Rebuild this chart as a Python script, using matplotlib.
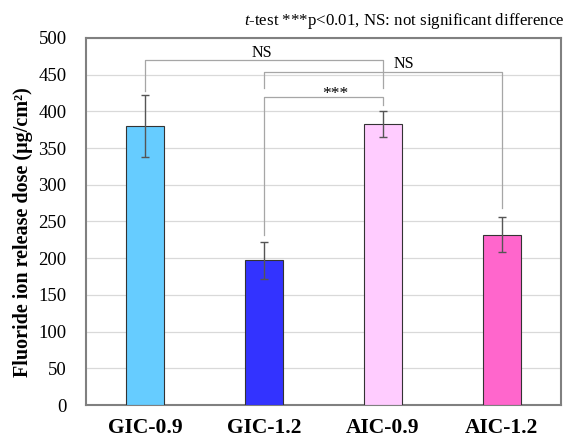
import matplotlib.pyplot as plt

plt.rcParams['font.family'] = ['Liberation Serif', 'DejaVu Serif']
plt.rcParams['mathtext.fontset'] = 'custom'
plt.rcParams['mathtext.rm'] = 'Liberation Serif'
plt.rcParams['mathtext.it'] = 'Liberation Serif:italic'

groups = ['GIC-0.9', 'GIC-1.2', 'AIC-0.9', 'AIC-1.2']
means = [380, 197, 383, 232]
errs = [42, 25, 18, 24]
colors = ['#66CCFF', '#3333FF', '#FFCCFF', '#FF66CC']

# significance brackets: (left bar, right bar, bracket height, left leg end, right leg end, label, label x)
brackets = [
    (0, 2, 470, 428, 432, 'NS', 0.98),
    (1, 3, 454, 432, 269, 'NS', 2.18),
    (1, 2, 420, 232, 409, '***', 1.6),
]

fig = plt.figure(figsize=(5.66, 4.36), dpi=100)
ax = fig.add_axes([0.152, 0.071, 0.839, 0.842])

x = range(len(groups))
ax.bar(x, means, width=0.32, color=colors, edgecolor='#333333', linewidth=0.8, zorder=3)
ax.errorbar(x, means, yerr=errs, fmt='none', ecolor='#555555', elinewidth=1.0,
            capsize=3, capthick=1.0, zorder=4)

gc = '#a6a6a6'
for i, j, h, lend, rend, lab, tx in brackets:
    ax.plot([i, i, j, j], [lend, h, h, rend], color=gc, lw=0.9, zorder=2)
    if lab == '***':
        ax.text(tx, h - 7, lab, ha='center', va='bottom', fontsize=12.5)
    else:
        ax.text(tx, h - 1, lab, ha='center', va='bottom', fontsize=11.5)

ax.set_xlim(-0.5, 3.5)
ax.set_ylim(0, 500)
ax.set_yticks(range(0, 501, 50))
ax.set_xticks(list(x))
ax.set_xticklabels(groups, fontsize=15.5, fontweight='bold')
ax.tick_params(axis='both', length=0)
ax.tick_params(axis='x', pad=9)
ax.tick_params(axis='y', pad=14, labelsize=13.5)
ax.yaxis.grid(True, color='#d9d9d9', lw=0.9, zorder=0)
ax.set_axisbelow(True)
for s in ax.spines.values():
    s.set_color('#808080')
    s.set_linewidth(1.5)

ax.set_ylabel('Fluoride ion release dose (μg/cm²)', fontsize=14.5, fontweight='bold')
ax.yaxis.set_label_coords(-0.112, 0.47)

fig.text(0.997, 0.952, r'$\it{t}$-test ***p<0.01, NS: not significant difference',
         ha='right', va='center', fontsize=12.2)

fig.savefig('out.png', dpi=100)
